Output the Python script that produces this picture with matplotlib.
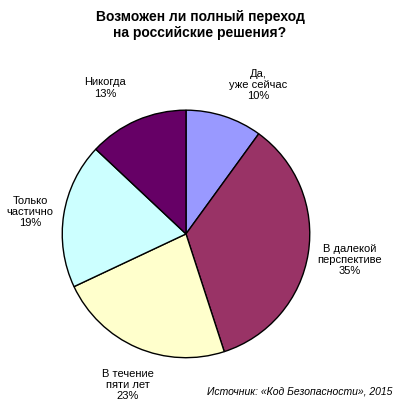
import matplotlib
matplotlib.use("Agg")
import matplotlib.pyplot as plt

plt.rcParams['font.family'] = ['Liberation Sans', 'DejaVu Sans']

labels = ["Да,\nуже сейчас", "В далекой\nперспективе", "В течение\nпяти лет", "Только\nчастично", "Никогда"]
values = [10, 35, 23, 19, 13]
colors = ["#9999FF", "#993366", "#FFFFCC", "#CCFFFF", "#660066"]
# label centers in pixel coords (x, y from top)
label_pos = [(258, 85), (350, 260), (128, 385), (30, 212), (105, 88)]

W, H = 400, 410
fig = plt.figure(figsize=(W/100, H/100), dpi=100)
fig.patch.set_facecolor("white")
ax = fig.add_axes([0.1525, 0.122, 0.625, 0.61])
ax.pie(values, colors=colors, startangle=90, counterclock=False,
       wedgeprops=dict(edgecolor="black", linewidth=1.0))
ax.set_xlim(-1.01, 1.01)
ax.set_ylim(-1.01, 1.01)
ax.set_aspect("equal")

fig.text(0.5, 1 - 25/H, "Возможен ли полный переход\nна российские решения?",
         ha="center", va="center", fontsize=10, fontweight="bold", linespacing=1.15)
for lab, v, (x, y) in zip(labels, values, label_pos):
    fig.text(x/W, 1 - y/H, f"{lab}\n{v}%", ha="center", va="center", fontsize=8, linespacing=1.15)
fig.text(1 - 8/W, 1 - 392/H, "Источник: «Код Безопасности», 2015", ha="right", va="center",
         fontsize=7.5, style="italic")
fig.savefig("out.png", dpi=100)
